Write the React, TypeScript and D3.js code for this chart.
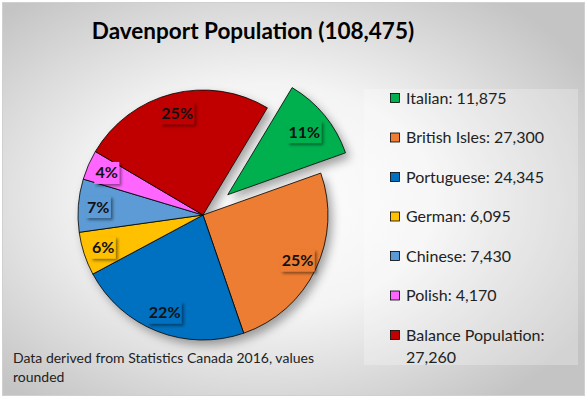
import React from "react";
import * as d3 from "d3";

const width = 588;
const height = 398;
const font = "Lato, 'Open Sans', sans-serif";

// chart data
const categories = [
  "Italian",
  "British Isles",
  "Portuguese",
  "German",
  "Chinese",
  "Polish",
  "Balance Population",
];
const populations = [11875, 27300, 24345, 6095, 7430, 4170, 27260];
const colors = ["#00b050", "#ed7d31", "#0070c0", "#ffc000", "#5b9bd5", "#ff66ff", "#c00000"];
const exploded = [true, false, false, false, false, false, false];
const pctLabels = ["11%", "25%", "22%", "6%", "7%", "4%", "25%"];
const legendLabels = [
  ["Italian: 11,875"],
  ["British Isles: 27,300"],
  ["Portuguese: 24,345"],
  ["German: 6,095"],
  ["Chinese: 7,430"],
  ["Polish: 4,170"],
  ["Balance Population:", "27,260"],
];
const title = "Davenport Population (108,475)";
const footnote = ["Data derived from Statistics Canada 2016, values", "rounded"];

const cx = 203;
const cy = 215;
const radius = 125;
const explodeBy = 32;
const startDeg = 31;

const App = () => {
  const rows = categories.map((c, i) => ({ name: c, value: populations[i], i }));
  const pie = d3
    .pie<any>()
    .value((d) => d.value)
    .sort(null)
    .startAngle((startDeg * Math.PI) / 180)
    .endAngle((startDeg * Math.PI) / 180 + 2 * Math.PI);
  const arcs = pie(rows);
  const arc = d3.arc<any>().innerRadius(0).outerRadius(radius);
  const labelArc = d3.arc<any>().innerRadius(radius * 0.84).outerRadius(radius * 0.84);

  const legendY = d3.scaleLinear().domain([0, 6]).range([98, 335]);

  return (
    <svg
      width={width}
      height={height}
      style={{ position: "fixed", left: 0, top: 0, display: "block" }}
      fontFamily={font}
    >
      <defs>
        <radialGradient id="bg" cx="45%" cy="50%" r="65%">
          <stop offset="0" stopColor="#ffffff" />
          <stop offset="0.45" stopColor="#f4f4f4" />
          <stop offset="1" stopColor="#c4c4c4" />
        </radialGradient>
        <filter id="pieShadow" x="-20%" y="-20%" width="150%" height="150%">
          <feDropShadow dx="4" dy="5" stdDeviation="5" floodColor="#000" floodOpacity="0.35" />
        </filter>
        <filter id="lblShadow" x="-30%" y="-30%" width="170%" height="170%">
          <feDropShadow dx="2" dy="2" stdDeviation="1.5" floodColor="#000" floodOpacity="0.45" />
        </filter>
      </defs>
      <rect x={0} y={0} width={width} height={height} fill="#fff" />
      <rect x={2.5} y={2.5} width={582} height={393} fill="url(#bg)" stroke="#d0d0d0" />

      <text
        x={253}
        y={39}
        textAnchor="middle"
        fontSize={22.5}
        fontWeight="bold"
        fill="#000"
      >
        {title}
      </text>

      <g filter="url(#pieShadow)">
        {arcs.map((a, i) => {
          const ang = (a.startAngle + a.endAngle) / 2;
          const off = exploded[i] ? explodeBy : 0;
          const tx = cx + Math.sin(ang) * off;
          const ty = cy - Math.cos(ang) * off;
          return (
            <path
              key={i}
              d={arc(a) || ""}
              transform={`translate(${tx},${ty})`}
              fill={colors[i]}
              stroke="#000"
              strokeWidth={0.8}
              strokeLinejoin="round"
            />
          );
        })}
      </g>

      {arcs.map((a, i) => {
        const ang = (a.startAngle + a.endAngle) / 2;
        const off = exploded[i] ? explodeBy - 6 : 0;
        const [mx, my] = labelArc.centroid(a);
        const x = cx + mx + Math.sin(ang) * off;
        const y = cy + my - Math.cos(ang) * off;
        const w = pctLabels[i].length * 9 + 7;
        return (
          <g key={i}>
            <rect
              x={x - w / 2}
              y={y - 11}
              width={w}
              height={22}
              fill={colors[i]}
              filter="url(#lblShadow)"
            />
            <text
              x={x}
              y={y + 5.5}
              textAnchor="middle"
              fontSize={16}
              fontWeight="bold"
              fill="#111"
            >
              {pctLabels[i]}
            </text>
          </g>
        );
      })}

      <rect x={364} y={89} width={214} height={276} fill="#ffffff" fillOpacity={0.25} />
      {legendLabels.map((lines, i) => (
        <g key={i}>
          <rect
            x={390.5}
            y={legendY(i) - 4.5}
            width={9}
            height={9}
            fill={colors[i]}
            stroke="#000"
            strokeWidth={0.8}
          />
          {lines.map((t, j) => (
            <text key={j} x={406} y={legendY(i) + 5.5 + j * 22} fontSize={16} fill="#222">
              {t}
            </text>
          ))}
        </g>
      ))}

      {footnote.map((t, j) => (
        <text key={j} x={13} y={363 + j * 19} fontSize={14} fill="#222">
          {t}
        </text>
      ))}
    </svg>
  );
};

export default App;
